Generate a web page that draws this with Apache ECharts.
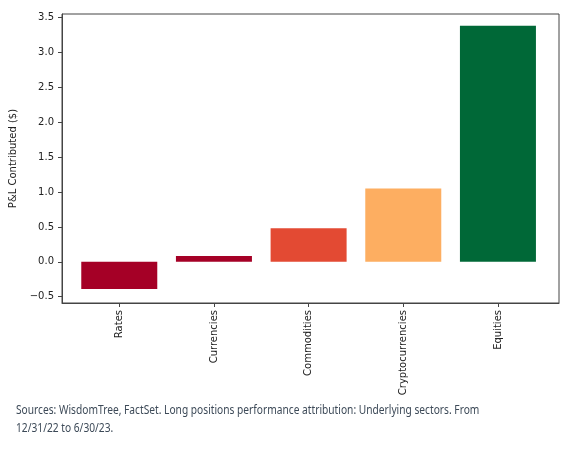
<!DOCTYPE html>
<html>
  <head>
    <meta charset="utf-8">
    <title></title>
    <style>
      html, body{ margin:0; padding:0; background:#fff; }
      #wrap{ width:568px; height:449px; }
    </style>
    <script src="https://cdn.jsdelivr.net/npm/echarts@6/dist/echarts.min.js"></script>
  </head>
  <body>
    <div id="wrap"></div>
    <script>
      // sectors and their P&L contribution
      var categories = ['Rates', 'Currencies', 'Commodities', 'Cryptocurrencies', 'Equities'];
      var values = [-0.39, 0.085, 0.48, 1.05, 3.38];
      var colors = ['#a50026', '#a50026', '#e34a33', '#fdae61', '#006837'];
      var yTicks = [-0.5, 0, 0.5, 1, 1.5, 2, 2.5, 3, 3.5];
      var xTicks = [0, 1, 2, 3, 4];

      var chart = echarts.init(document.getElementById('wrap'));

      var barData = values.map(function (v, i) {
        return { value: [i, v], itemStyle: { color: colors[i] } };
      });

      var option = {
        animation: false,
        grid: {
          left: 59, top: 14, width: 500, height: 289,
          show: true, borderColor: '#444', borderWidth: 1
        },
        xAxis: {
          type: 'value',
          min: -0.605, max: 4.645,
          splitLine: { show: false },
          axisLine: { show: true, onZero: false, lineStyle: { color: '#444' } },
          axisTick: { show: true, length: 4, customValues: xTicks, lineStyle: { color: '#444' } },
          axisLabel: {
            customValues: xTicks,
            rotate: 90, margin: 7,
            fontFamily: 'DejaVu Sans', fontSize: 10, color: '#222',
            formatter: function (v) { return categories[Math.round(v)]; }
          }
        },
        yAxis: {
          type: 'value',
          min: -0.59, max: 3.55,
          name: 'P&L Contributed ($)',
          nameLocation: 'middle', nameGap: 44,
          nameTextStyle: { fontFamily: 'DejaVu Sans', fontSize: 10, color: '#222' },
          splitLine: { show: false },
          axisLine: { show: true, onZero: false, lineStyle: { color: '#444' } },
          axisTick: { show: true, length: 4, customValues: yTicks, lineStyle: { color: '#444' } },
          axisLabel: {
            customValues: yTicks,
            margin: 8,
            fontFamily: 'DejaVu Sans', fontSize: 10, color: '#222',
            formatter: function (v) { return v.toFixed(1).replace('-', '\u2212'); }
          }
        },
        series: [{
          type: 'bar',
          barWidth: 76,
          data: barData
        }],
        graphic: [{
          type: 'text',
          left: 16, top: 402,
          scaleX: 0.85,
          style: {
            text: 'Sources: WisdomTree, FactSet. Long positions performance attribution: Underlying sectors. From\n12/31/22 to 6/30/23.',
            font: '12px "Noto Sans"',
            fill: '#3d4a58',
            lineHeight: 18
          }
        }]
      };
      chart.setOption(option);
    </script>
  </body>
</html>
